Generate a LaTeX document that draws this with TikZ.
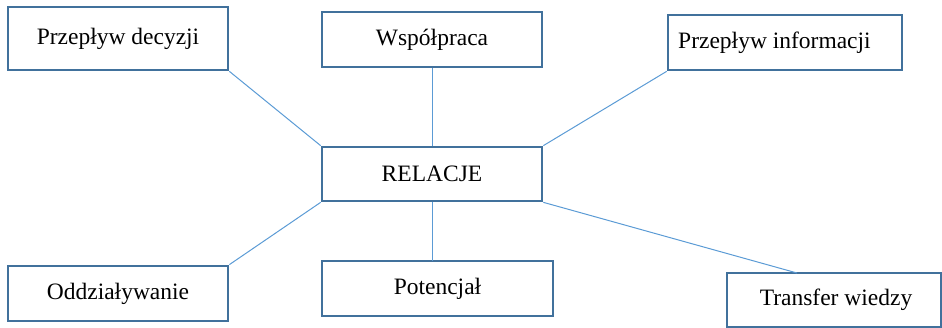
\documentclass[tikz,border=0pt]{standalone}
\usepackage{fontspec}
\setmainfont{Liberation Serif}
\definecolor{boxc}{HTML}{41719C}
\definecolor{linec}{HTML}{5B9BD5}
\begin{document}
\begin{tikzpicture}[x=1pt,y=-1pt,
  box/.style={draw=boxc, line width=2.7pt, fill=white, inner sep=0pt, font=\fontsize{23.5}{28}\selectfont},
  conn/.style={draw=linec, line width=1pt}]
\useasboundingbox (0,0) rectangle (942,328);
\node[box, minimum width=220pt, minimum height=63pt] (dec) at (118,38.5) {Przepływ decyzji};
\node[box, minimum width=220pt, minimum height=55pt] (wsp) at (432,39.5) {Współpraca};
\node[box, minimum width=234pt, minimum height=55pt] (inf) at (785,42.5) {};
\node[anchor=west, inner sep=0pt, font=\fontsize{23.5}{28}\selectfont] (inft) at (678,42.5) {Przepływ informacji};
\node[box, minimum width=220pt, minimum height=54pt] (rel) at (432,174) {RELACJE};
\node[box, minimum width=220pt, minimum height=55pt] (odd) at (118,293.5) {Oddziaływanie};
\node[box, minimum width=231pt, minimum height=55pt] (pot) at (437.5,288.5) {Potencjał};
\node[box, minimum width=214pt, minimum height=54pt] (tra) at (834,300) {};
\node[inner sep=0pt, font=\fontsize{23.5}{28}\selectfont] (trat) at (836,300) {Transfer wiedzy};
\coordinate (trapt) at (797,273);
\coordinate (potpt) at (432,261);
\draw[conn] (dec.south east) -- (rel.north west);
\draw[conn] (wsp.south) -- (rel.north);
\draw[conn] (inf.south west) -- (rel.north east);
\draw[conn] (rel.south west) -- (odd.north east);
\draw[conn] (rel.south) -- (potpt);
\draw[conn] (rel.south east) -- (trapt);
\end{tikzpicture}
\end{document}
